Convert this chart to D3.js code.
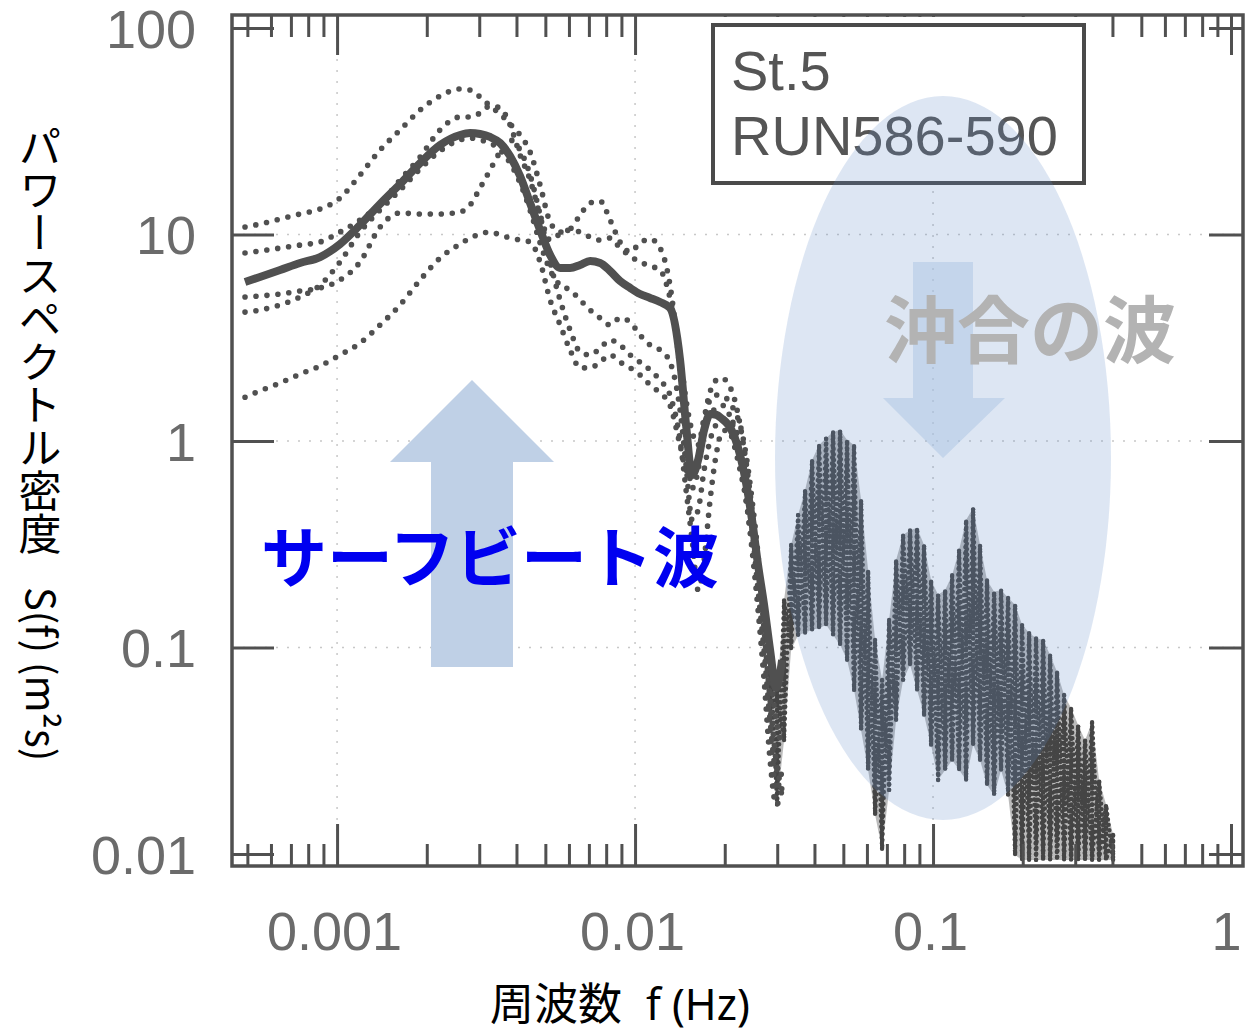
<!DOCTYPE html>
<html><head><meta charset="utf-8">
<script src="https://cdn.jsdelivr.net/npm/d3@7"></script>
<style>body{margin:0;background:#fff} svg{display:block}</style>
</head><body>
<svg id="chart" width="1245" height="1034"></svg>
<script>
// ---------- data ----------
const freqLow = [0.000491,0.000551,0.000644,0.000751,0.000877,0.001023,0.001194,0.001394,0.001627,0.001899,
  0.002216,0.002587,0.002795,0.003019,0.003262,0.003524,0.003807,0.004113,0.004444,0.004801,
  0.005187,0.005603,0.006053,0.006540,0.007066,0.007633,0.008246,0.008907,0.009624,0.01039,
  0.01123,0.01213,0.01310,0.01416,0.01483,0.01554,0.01628,0.01705,0.01786,0.01871,
  0.01960,0.02053,0.02150,0.02251,0.02358,0.02470,0.02587,0.02710,0.02839,0.02974,0.03115];
const meanS = [5.89,6.23,6.73,7.28,7.78,8.99,11.12,14.05,17.56,22.19,
  27.13,30.33,31.0,30.67,29.67,27.74,23.99,19.20,14.21,10.51,
  7.96,6.88,6.88,7.12,7.44,7.28,6.66,5.95,5.51,5.15,
  4.93,4.71,4.41,2.47,1.20,0.684,0.809,1.13,1.35,1.34,
  1.28,1.20,1.06,0.856,0.626,0.414,0.251,0.161,0.0973,0.0637,0.0870];
const run586 = [10.87,11.24,11.89,12.57,13.29,15.02,19.42,25.66,32.07,40.09,
  46.84,50.66,50.10,46.33,41.92,38.33,34.29,30.33,25.09,17.37,
  11.49,10.28,10.63,12.43,14.21,14.53,11.75,9.20,8.23,9.10,
  9.51,8.60,5.69,2.16,1.01,0.592,0.724,1.26,1.73,1.97,
  2.02,1.89,1.62,1.20,0.791,0.463,0.251,0.144,0.0778,0.0446,0.0337];
const run587 = [8.14,8.32,8.60,8.89,9.20,10.28,11.75,14.05,18.36,23.73,
  32.07,37.07,37.07,38.76,41.92,40.99,33.91,24.27,18.36,12.43,
  9.40,10.06,10.51,10.28,9.72,9.40,9.62,8.60,7.87,7.36,
  7.04,6.73,4.93,2.61,1.58,1.11,0.956,1.29,1.58,1.67,
  1.65,1.58,1.41,1.20,0.856,0.518,0.280,0.122,0.0557,0.0285,0.0204];
const run588 = [4.98,5.04,5.15,5.33,5.51,6.02,7.36,10.87,12.71,12.57,
  12.57,12.85,13.90,16.80,20.53,25.09,28.68,25.66,19.42,12.43,
  7.36,4.82,3.45,2.70,2.61,2.82,3.08,2.92,2.61,2.41,
  2.21,1.97,1.67,1.01,0.579,0.332,0.190,0.265,0.518,0.856,
  1.11,1.13,0.956,0.724,0.518,0.297,0.152,0.0696,0.0285,0.0173,0.0204];
const run589 = [4.21,4.31,4.56,4.98,5.69,7.36,10.28,13.14,16.4,20.76,
  25.38,28.68,29.3,28.68,27.74,25.66,22.19,17.76,13.1,9.10,
  6.73,5.69,5.39,4.82,4.31,3.94,3.65,3.94,3.77,3.26,
  2.92,2.76,2.41,1.41,0.765,0.415,0.463,0.724,1.01,1.20,
  1.26,1.29,1.20,0.956,0.648,0.371,0.190,0.0973,0.0446,0.0255,0.0285];
const run590 = [1.63,1.75,1.91,2.11,2.31,2.61,2.98,3.65,4.56,6.02,
  7.69,8.99,9.62,10.06,10.28,9.95,9.62,9.40,9.20,7.36,
  4.82,3.65,2.76,2.26,2.26,2.41,2.61,2.41,2.26,2.09,
  1.87,1.71,1.49,0.956,0.724,0.684,0.856,1.13,1.34,1.44,
  1.49,1.38,1.13,0.809,0.518,0.314,0.170,0.0870,0.0398,0.0204,0.0255];
// high-frequency (offshore wave) band: upper / lower envelope of the five runs
const hfFreq = [0.02839,0.02997,0.03163,0.03339,0.03525,0.03721,0.03927,0.04146,0.04376,0.04619,
  0.04876,0.05147,0.05433,0.05735,0.06054,0.06391,0.06746,0.07121,0.07517,0.07934,
  0.08375,0.08841,0.09332,0.09851,0.1040,0.1098,0.1159,0.1223,0.1291,0.1363,
  0.1438,0.1518,0.1603,0.1692,0.1786,0.1885,0.1990,0.2101,0.2217,0.2341,
  0.2471,0.2608,0.2753,0.2906,0.3068,0.3238,0.3418,0.3608,0.3809,0.4021];
const hfUpper = [0.0973,0.0622,0.170,0.314,0.438,0.579,0.809,0.956,1.03,1.11,
  1.13,1.01,0.956,0.518,0.237,0.109,0.0696,0.136,0.265,0.351,
  0.371,0.379,0.314,0.212,0.180,0.190,0.224,0.297,0.415,0.474,
  0.314,0.212,0.186,0.190,0.174,0.161,0.129,0.118,0.111,0.109,
  0.0920,0.0761,0.0589,0.0509,0.0421,0.0356,0.0436,0.0228,0.0173,0.0124];
const hfLower = [0.0446,0.0173,0.0356,0.0973,0.115,0.118,0.122,0.124,0.129,0.115,
  0.103,0.0870,0.0622,0.0398,0.0255,0.0155,0.0105,0.0204,0.0446,0.0696,
  0.0823,0.0622,0.0471,0.0337,0.0228,0.0255,0.0285,0.0255,0.0228,0.0337,
  0.0285,0.0216,0.0193,0.0255,0.0193,0.00989,0.00935,0.00935,0.00935,0.00935,
  0.00935,0.00935,0.00935,0.00935,0.00935,0.00935,0.00935,0.00935,0.00935,0.00935];
const xTickValues = [0.001, 0.01, 0.1, 1];
const xTickLabels = ["0.001", "0.01", "0.1", "1"];
const yTickValues = [0.01, 0.1, 1, 10, 100];
const yTickLabels = ["0.01", "0.1", "1", "10", "100"];
const boxLines = ["St.5", "RUN586-590"];
const xTitleJa = "周波数";
const xTitleSym = "f (Hz)";
const yTitleJa = "パワースペクトル密度";
const yTitleSym = "S(f) (m²s)";
const surfLabel = "サーフビート波";
const offshoreLabel = "沖合の波";

// ---------- layout ----------
const X0 = 232, X1 = 1243, Y0 = 15, Y1 = 866;
const svg = d3.select("#chart");
const x = d3.scaleLog().domain([0.000444, 1.097]).range([X0, X1]);
const y = d3.scaleLog().domain([0.00875, 115.6]).range([Y1, Y0]);
const ink = "#505050";

svg.append("defs").append("clipPath").attr("id", "plotClip")
  .append("rect").attr("x", X0).attr("y", Y0).attr("width", X1 - X0).attr("height", Y1 - Y0);

// faint dotted grid
const grid = svg.append("g").attr("stroke", "#c8c8c8").attr("stroke-width", 1.5).attr("stroke-dasharray", "2 9");
yTickValues.slice(1, 4).forEach(v => grid.append("line").attr("x1", X0).attr("x2", X1).attr("y1", y(v)).attr("y2", y(v)));
xTickValues.slice(0, 3).forEach(v => grid.append("line").attr("y1", Y0).attr("y2", Y1).attr("x1", x(v)).attr("x2", x(v)));

// data
const plot = svg.append("g").attr("clip-path", "url(#plotClip)");
const lineGen = d3.line().x(d => x(d[0])).y(d => y(d[1])).curve(d3.curveMonotoneX);

// HF band
const band = d3.area().x(d => x(d[0])).y0(d => y(d[2])).y1(d => y(d[1]));
const bandData = hfFreq.map((f, i) => [f, hfUpper[i], hfLower[i]]);
plot.append("path").attr("d", band(bandData)).attr("fill", "#555").attr("opacity", 0.4);
const zig1 = [], zig2 = [];
hfFreq.forEach((f, i) => { zig1.push([f, hfUpper[i]], [f, hfLower[i]]); zig2.push([f, hfLower[i]], [f, hfUpper[i]]); });
const zigGen = d3.line().x(d => x(d[0])).y(d => y(d[1]));
[zig1, zig2].forEach((z, k) => plot.append("path").attr("d", zigGen(z)).attr("fill", "none")
  .attr("stroke", "#454545").attr("stroke-width", 4.4).attr("stroke-dasharray", k ? "0 5.5" : "0 6")
  .attr("stroke-linecap", "round"));

// dotted runs
[run586, run587, run588, run589, run590].forEach(run => {
  plot.append("path").attr("d", lineGen(freqLow.map((f, i) => [f, run[i]])))
    .attr("fill", "none").attr("stroke", ink).attr("stroke-width", 5.6)
    .attr("stroke-linecap", "round").attr("stroke-dasharray", "0 11");
});
// mean (solid)
plot.append("path").attr("d", lineGen(freqLow.map((f, i) => [f, meanS[i]])))
  .attr("fill", "none").attr("stroke", ink).attr("stroke-width", 8).attr("stroke-linejoin", "round");

// axes
const allTicks = x.ticks();
const isMajor = v => Math.abs(Math.log10(v) - Math.round(Math.log10(v))) < 1e-6;
const minorX = allTicks.filter(v => !isMajor(v));
function styleAxis(g) {
  g.select(".domain").remove();
  g.selectAll(".tick line").attr("stroke", ink).attr("stroke-width", 3);
  g.selectAll(".tick text").attr("fill", "#6b6b6b").attr("font-family", "Liberation Sans, Arial, sans-serif").attr("font-size", 54);
}
svg.append("g").attr("transform", `translate(0,${Y1})`)
  .call(d3.axisBottom(x).tickValues(minorX).tickSize(-22).tickFormat("")).call(styleAxis);
const bottomMajor = svg.append("g").attr("transform", `translate(0,${Y1})`)
  .call(d3.axisBottom(x).tickValues(xTickValues).tickSize(-42).tickPadding(46)
    .tickFormat((d, i) => xTickLabels[i])).call(styleAxis);
bottomMajor.selectAll(".tick text").attr("dx", (d, i) => i === 3 ? -5 : -3);
svg.append("g").attr("transform", `translate(0,${Y0})`)
  .call(d3.axisTop(x).tickValues(minorX).tickSize(-22).tickFormat("")).call(styleAxis);
svg.append("g").attr("transform", `translate(0,${Y0})`)
  .call(d3.axisTop(x).tickValues(xTickValues).tickSize(-40).tickFormat("")).call(styleAxis);
svg.append("g").attr("transform", `translate(${X0},0)`)
  .call(d3.axisLeft(y).tickValues(yTickValues).tickSize(-42).tickPadding(36)
    .tickFormat((d, i) => yTickLabels[i])).call(styleAxis)
  .selectAll(".tick text").attr("dy", "0.36em");
svg.append("g").attr("transform", `translate(${X1},0)`)
  .call(d3.axisRight(y).tickValues(yTickValues).tickSize(-34).tickFormat("")).call(styleAxis);
svg.append("rect").attr("x", X0).attr("y", Y0).attr("width", X1 - X0).attr("height", Y1 - Y0)
  .attr("fill", "none").attr("stroke", ink).attr("stroke-width", 3.5);

// label box (drawn over the top-axis ticks, as in the original)
svg.append("rect").attr("x", 706).attr("y", 17).attr("width", 389).attr("height", 6).attr("fill", "#fff");
svg.append("rect").attr("x", 713).attr("y", 25).attr("width", 371).attr("height", 158)
  .attr("fill", "#fff").attr("stroke", "#4a4a4a").attr("stroke-width", 4);
boxLines.forEach((t, i) => svg.append("text").attr("x", 731).attr("y", 90 + i * 65)
  .attr("font-family", "Liberation Sans, Arial, sans-serif").attr("font-size", 56).attr("fill", "#555").text(t));

// annotations
svg.append("ellipse").attr("cx", 943).attr("cy", 458).attr("rx", 168).attr("ry", 362)
  .attr("fill", "rgb(100,140,200)").attr("opacity", 0.22);
svg.append("polygon").attr("points", "913,262 973,262 973,398 1005,398 943,458 883,398 913,398")
  .attr("fill", "rgb(175,198,228)").attr("opacity", 0.55);
svg.append("text").attr("x", 884).attr("y", 357).attr("font-family", "Noto Sans CJK JP").attr("font-weight", 700)
  .attr("font-size", 73).attr("fill", "#b3b3b3").text(offshoreLabel);
svg.append("polygon").attr("points", "472,380 554,462 513,462 513,667 431,667 431,462 390,462")
  .attr("fill", "rgb(191,208,230)");
svg.append("text").attr("x", 261).attr("y", 582).attr("font-family", "Noto Sans CJK JP").attr("font-weight", 700)
  .attr("font-size", 66).attr("fill", "#0000f0").text(surfLabel);

// axis titles
const xt = svg.append("text").attr("x", 490).attr("y", 1020).attr("font-size", 44).attr("fill", "#000");
xt.append("tspan").attr("font-family", "Noto Sans CJK JP").text(xTitleJa);
xt.append("tspan").attr("dx", 24).attr("font-family", "Noto Sans, sans-serif").attr("font-size", 43).text(xTitleSym);
svg.append("text").attr("x", 40).attr("y", 125).attr("font-family", "Noto Sans CJK JP")
  .attr("font-size", 43).attr("fill", "#000").style("writing-mode", "vertical-rl").text(yTitleJa);
svg.append("text").attr("transform", "translate(26,587) rotate(90)").attr("font-family", "Noto Sans CJK JP")
  .attr("font-size", 40).attr("fill", "#000").text(yTitleSym);
</script>
</body></html>
